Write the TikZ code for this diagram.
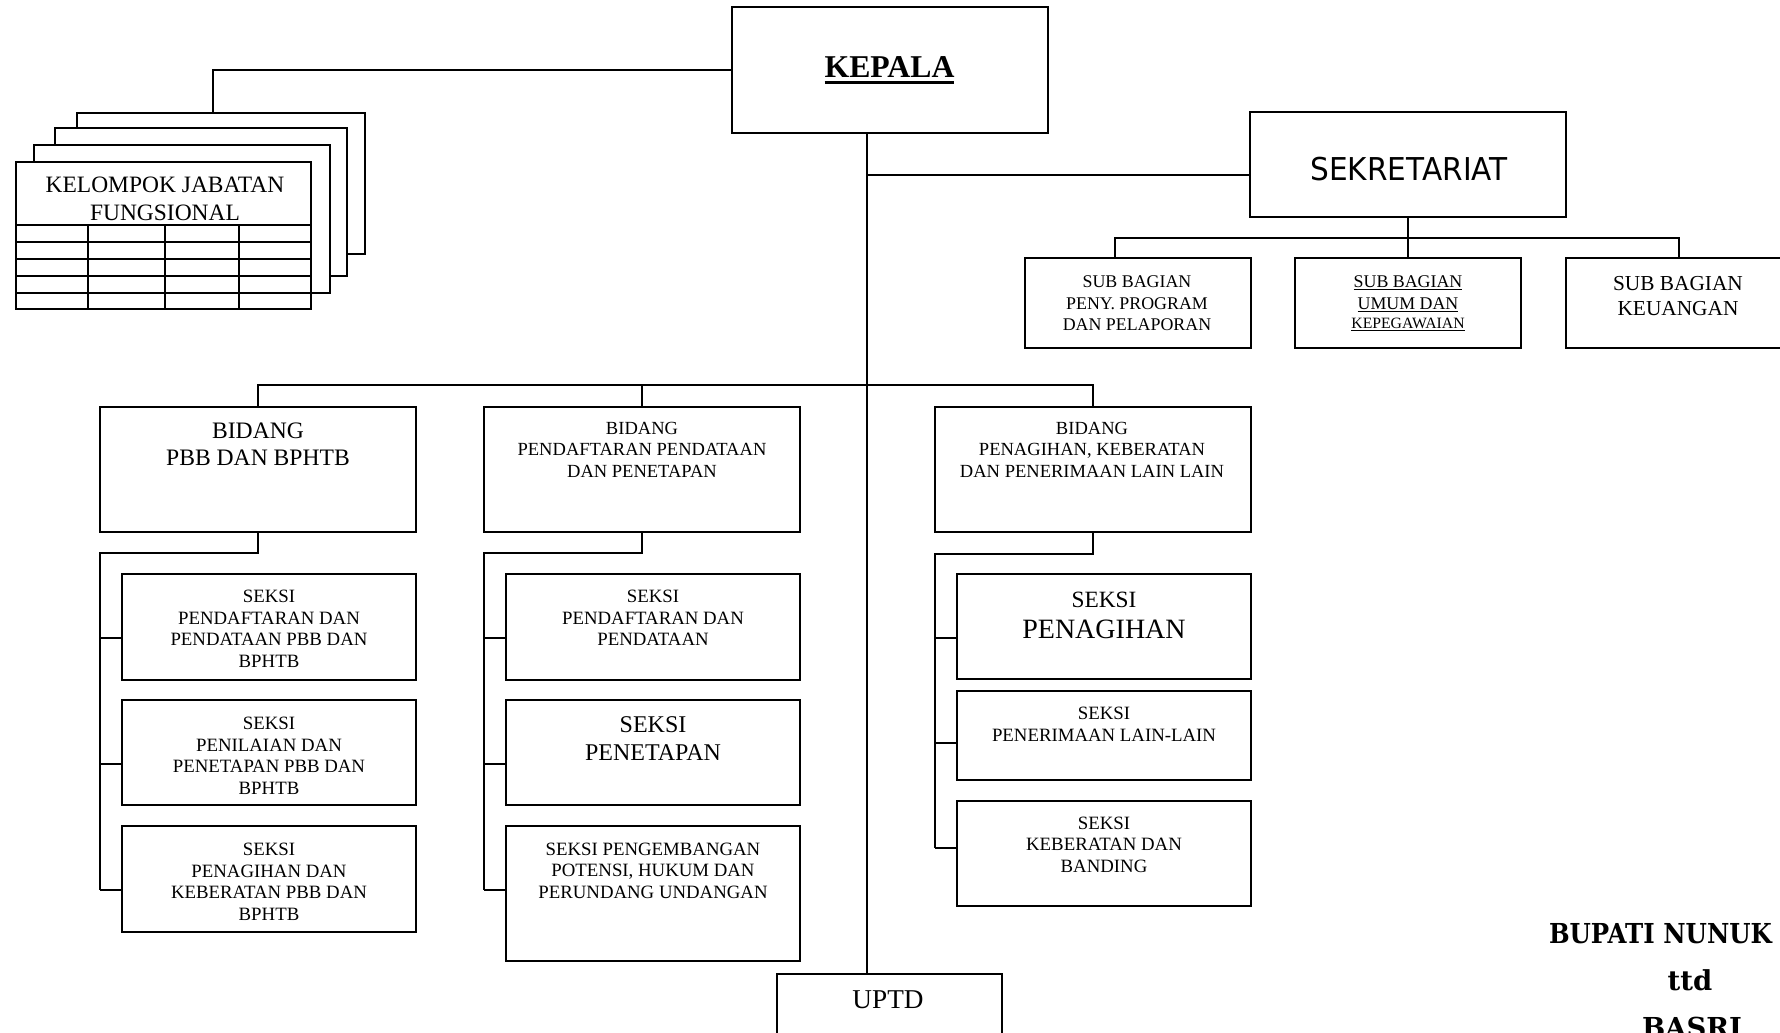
\documentclass[tikz,border=0pt]{standalone}
\usepackage{fontspec}
\setmainfont{Liberation Serif}
\newfontfamily\secfont[FakeStretch=0.94]{DejaVu Sans}
\newfontfamily\signfont{DejaVu Serif}
\newfontfamily\signnarrow[FakeStretch=0.89]{DejaVu Serif}
\usetikzlibrary{calc}

% font size shortcut: size, baselineskip
\newcommand\fsz[2]{\fontsize{#1}{#2}\selectfont}
% underline with given depth and rule thickness
\newcommand\ulrule[3]{\sbox0{#3}\leavevmode\rlap{\rule[-#1]{\wd0}{#2}}\usebox0}
\newcommand\ulthin[1]{\ulrule{1.9pt}{0.75pt}{#1}}
% framed box from corner (x1,y1) to (x2,y2)
\newcommand\orgbox[5]{\node[box, minimum width={(#4-#2)*0.75pt}, minimum height={(#5-#3)*0.75pt}] (#1) at ({(#2+#4)/2},{(#3+#5)/2}) {};}

\begin{document}
\begin{tikzpicture}[x=0.75pt,y=-0.75pt,line width=1.5pt,line join=miter,
  box/.style={draw, fill=white, rectangle, inner sep=0pt, outer sep=0pt, line width=1.5pt},
  lbl/.style={inner sep=0pt, outer sep=0pt, align=center, anchor=north},
  lblb/.style={inner sep=0pt, outer sep=0pt, anchor=base},
  small/.style={font=\fsz{14.1}{16.2}},
  mid/.style={font=\fsz{13.9}{16.1}}]

\useasboundingbox (0,0) rectangle (1780,1032);
\clip (0,0) rectangle (1780,1032);
\fill[white] (0,0) rectangle (1780,1032);

% ---- head ----
\orgbox{kep}{732}{7}{1048}{133}
\node[lblb, font=\bfseries\fsz{23.8}{27}] (kept) at (889.5,77.7) {\ulrule{5pt}{2.6pt}{KEPALA}};

% ---- stacked functional group cards ----
\orgbox{kjf4}{77}{113}{365}{254}
\orgbox{kjf3}{55}{128}{347}{276}
\orgbox{kjf2}{34}{145}{330}{293}
\orgbox{kjf1}{16}{162}{311}{309}
\foreach \y in {225,242,259,276,293} \draw (16,\y) -- (311,\y);
\foreach \x in {88,165,239} \draw (\x,225) -- (\x,309);
\node[lbl, font=\fsz{17.6}{21}] (kjft) at (165,176.6) {KELOMPOK JABATAN\\FUNGSIONAL};

% ---- secretariat ----
\orgbox{sek}{1250}{112}{1566}{217}
\node[lblb, font=\secfont\fsz{23.6}{28}] (sekt) at (1409,180) {SEKRETARIAT};

\orgbox{sb1}{1025}{258}{1251}{348}
\orgbox{sb2}{1295}{258}{1521}{348}
\orgbox{sb3}{1566}{258}{1792}{348}
\node[lbl, font=\fsz{13.4}{16.1}] (sb1t) at (1137,276) {SUB BAGIAN\\PENY. PROGRAM\\DAN PELAPORAN};
\node[lbl, font=\fsz{13.4}{16.1}] (sb2t) at (1408,276) {\ulthin{SUB BAGIAN}\\\ulthin{UMUM DAN}};
\node[lblb, font=\fsz{11.8}{14}] (sb2u) at (1408,328) {\ulthin{KEPEGAWAIAN}};
\node[lbl, font=\fsz{16}{18.75}] (sb3t) at (1678,276) {SUB BAGIAN\\KEUANGAN};

% ---- divisions ----
\orgbox{b1}{100}{407}{416}{532}
\orgbox{b2}{484}{407}{800}{532}
\orgbox{b3}{935}{407}{1251}{532}
\node[lbl, font=\fsz{17.7}{20.25}] (b1t) at (258,422.5) {BIDANG\\PBB DAN BPHTB};
\node[lbl, mid] (b2t) at (642,422) {BIDANG\\PENDAFTARAN PENDATAAN\\DAN PENETAPAN};
\node[lbl, mid] (b3t) at (1092,422) {BIDANG\\PENAGIHAN, KEBERATAN\\DAN PENERIMAAN LAIN LAIN};

% ---- sections ----
\orgbox{s1a}{122}{574}{416}{680}
\orgbox{s1b}{122}{700}{416}{805}
\orgbox{s1c}{122}{826}{416}{932}
\node[lbl, small] (s1at) at (269,590) {SEKSI\\PENDAFTARAN DAN\\PENDATAAN PBB DAN\\BPHTB};
\node[lbl, small] (s1bt) at (269,717) {SEKSI\\PENILAIAN DAN\\PENETAPAN PBB DAN\\BPHTB};
\node[lbl, small] (s1ct) at (269,843) {SEKSI\\PENAGIHAN DAN\\KEBERATAN PBB DAN\\BPHTB};

\orgbox{s2a}{506}{574}{800}{680}
\orgbox{s2b}{506}{700}{800}{805}
\orgbox{s2c}{506}{826}{800}{961}
\node[lbl, small] (s2at) at (653,590) {SEKSI\\PENDAFTARAN DAN\\PENDATAAN};
\node[lbl, font=\fsz{18}{21}] (s2bt) at (653,717) {SEKSI\\PENETAPAN};
\node[lbl, font=\fsz{14.1}{16}] (s2ct) at (653,843) {SEKSI PENGEMBANGAN\\POTENSI, HUKUM DAN\\PERUNDANG UNDANGAN};

\orgbox{s3a}{957}{574}{1251}{679}
\orgbox{s3b}{957}{691}{1251}{780}
\orgbox{s3c}{957}{801}{1251}{906}
\node[lblb, font=\fsz{17.5}{21}] (s3at) at (1104,607) {SEKSI};
\node[lblb, font=\fsz{21}{24}] (s3au) at (1104,638) {PENAGIHAN};
\node[lbl, font=\fsz{14.1}{16.5}] (s3bt) at (1104,707) {SEKSI\\PENERIMAAN LAIN-LAIN};
\node[lbl, font=\fsz{14.1}{16}] (s3ct) at (1104,817) {SEKSI\\KEBERATAN DAN\\BANDING};

% ---- technical unit ----
\orgbox{uptd}{777}{974}{1002}{1100}
\node[lblb, font=\fsz{20.4}{24}] (uptdt) at (888,1008) {UPTD};

% ---- signature ----
\node[inner sep=0pt, anchor=base west, font=\signnarrow\bfseries\fsz{20.6}{24}] (sig1) at (1548,943) {BUPATI NUNUK};
\node[lblb, font=\signfont\bfseries\fsz{20.6}{24}] (sig2) at (1690,990) {ttd};
\node[lblb, font=\signfont\bfseries\fsz{20.6}{24}] (sig3) at (1692,1037) {BASRI};

% ---- connectors ----
\coordinate (kjfJ) at (213,113);
\draw (kep.west) -| (kjfJ);

\coordinate (trunk) at (867,133);
\draw (trunk) -- (trunk |- uptd.north);
\coordinate (sekJ) at (1250,175);
\draw (trunk |- sekJ) -- (sekJ);

\coordinate (sbbusL) at (1115,238);
\coordinate (sbbusR) at (1679,238);
\draw (sek.south) -- (sb2.north);
\draw (sbbusL |- sb1.north) -- (sbbusL) -- (sbbusR) -- (sb3.north);

\coordinate (bus) at (258,385);
\draw (b1.north) -- (b1.north |- bus) -| (b3.north);
\draw (b2.north) -- (b2.north |- bus);

\coordinate (r1top) at (100,553);
\coordinate (r1bot) at (100,890);
\draw (b1.south) |- (r1top) -- (r1bot);
\foreach \n/\y in {s1a/638,s1b/764,s1c/890} \draw (r1top |- 0,\y) -- (\n.west |- 0,\y);

\coordinate (r2top) at (484,553);
\coordinate (r2bot) at (484,890);
\draw (b2.south) |- (r2top) -- (r2bot);
\foreach \n/\y in {s2a/638,s2b/764,s2c/890} \draw (r2top |- 0,\y) -- (\n.west |- 0,\y);

\coordinate (r3top) at (935,554);
\coordinate (r3bot) at (935,848);
\draw (b3.south) |- (r3top) -- (r3bot);
\foreach \n/\y in {s3a/638,s3b/743,s3c/848} \draw (r3top |- 0,\y) -- (\n.west |- 0,\y);

\end{tikzpicture}
\end{document}
